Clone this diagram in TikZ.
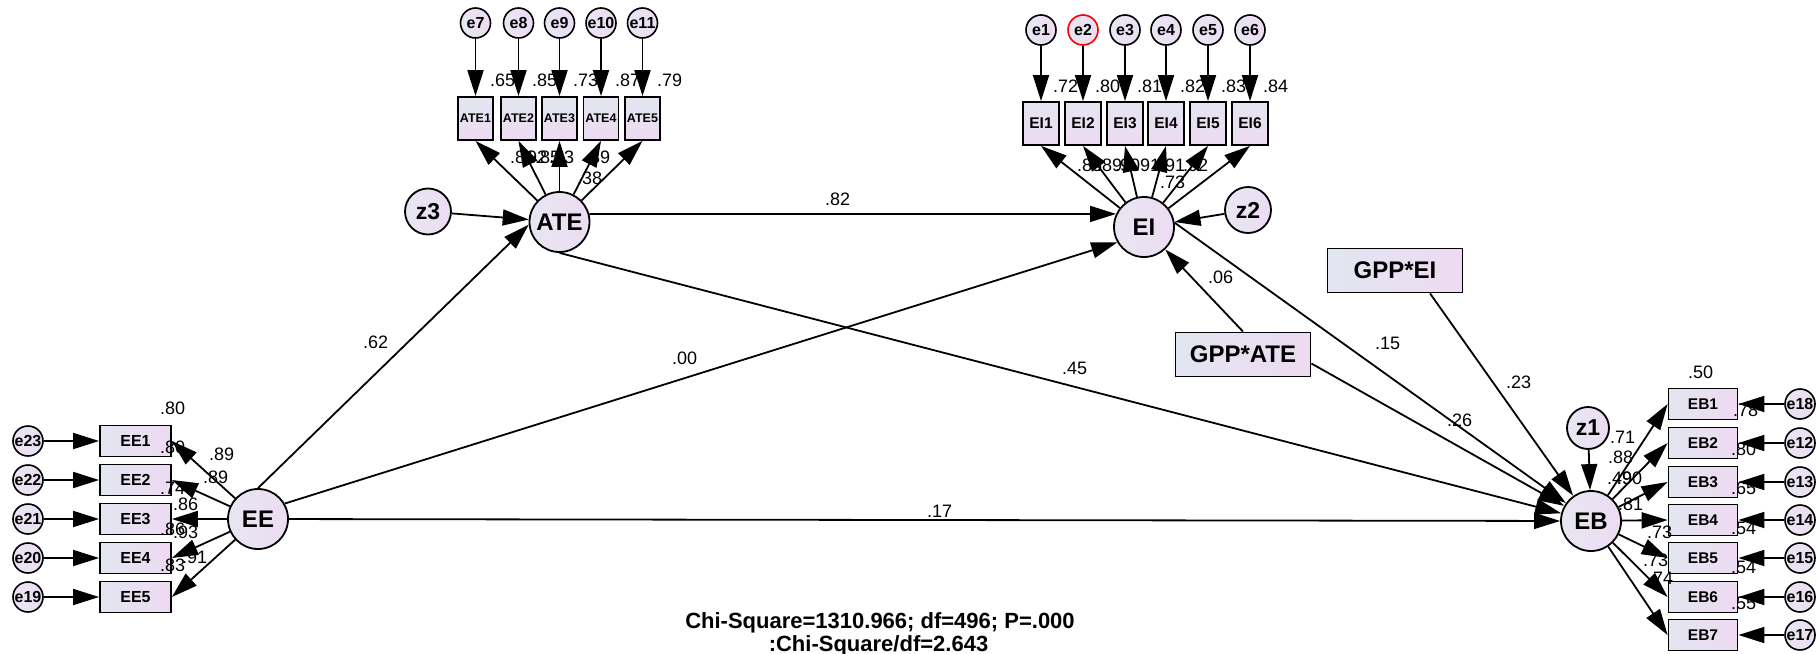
\documentclass[tikz,border=0pt]{standalone}
\usepackage{fontspec}
\setmainfont{Liberation Sans}
\usetikzlibrary{arrows.meta}
\definecolor{cL}{RGB}{226,230,240}
\definecolor{cR}{RGB}{238,218,242}
\definecolor{kL}{RGB}{232,230,242}
\definecolor{kR}{RGB}{236,220,242}
\begin{document}
\begin{tikzpicture}[x=1pt,y=-1pt,
  lat/.style={circle, draw, line width=1.8pt, minimum size=60pt, inner sep=0pt, left color=kL, right color=kR, font=\bfseries\fontsize{24}{24}\selectfont},
  distc/.style={circle, draw, line width=1.8pt, minimum size=46pt, inner sep=0pt, left color=kL, right color=kR, font=\bfseries\fontsize{23}{23}\selectfont},
  errc/.style={circle, draw, line width=1.6pt, minimum size=30pt, inner sep=0pt, left color=kL, right color=kR, font=\bfseries\fontsize{16}{16}\selectfont},
  boxv/.style={rectangle, draw, line width=1.8pt, minimum width=35pt, minimum height=43pt, inner sep=0pt, top color=cL, bottom color=cR},
  boxh/.style={rectangle, draw, line width=1.8pt, minimum width=71pt, minimum height=31pt, inner sep=0pt, left color=cL, right color=cR, font=\bfseries\fontsize{16}{16}\selectfont},
  boxw/.style={rectangle, draw, line width=1.8pt, minimum width=135pt, minimum height=44pt, inner sep=0pt, left color=cL, right color=cR, font=\bfseries\fontsize{24}{24}\selectfont},
  lbl/.style={inner sep=0pt, anchor=west, font=\fontsize{18}{18}\selectfont},
  arr/.style={-{Triangle[length=26pt,width=16pt]}, line width=1.8pt}
]
\useasboundingbox (0,0) rectangle (1819,653);

% latent variables
\node[lat] (ATE) at (559.5,222) {ATE};
\node[lat] (EI) at (1144,227) {EI};
\node[lat] (EE) at (258,519) {EE};
\node[lat] (EB) at (1591,521) {EB};
\node[distc] (z3) at (428,211.5) {z3};
\node[distc] (z2) at (1248,210) {z2};
\node[distc, minimum size=42pt] (z1) at (1588,428) {z1};
\node[boxw] (GPPEI) at (1395,270.5) {GPP*EI};
\node[boxw] (GPPATE) at (1243,354.5) {GPP*ATE};

% ATE indicators
\foreach \i/\x/\e in {1/475.5/7, 2/518.5/8, 3/559.5/9, 4/601/10, 5/642.5/11} {
  \node[boxv, font=\bfseries\fontsize{12.5}{12.5}\selectfont] (ATE\i) at (\x,118.5) {ATE\i};
  \node[errc] (e\e) at (\x,23) {e\e};
}
% EI indicators
\foreach \i/\x in {1/1041, 2/1083, 3/1125, 4/1166, 5/1208, 6/1250} {
  \node[boxv, minimum width=36pt, font=\bfseries\fontsize{15.5}{15.5}\selectfont] (EI\i) at (\x,123.5) {EI\i};
}
\foreach \i/\x in {1/1041, 3/1125, 4/1166, 5/1208, 6/1250} {
  \node[errc] (e\i) at (\x,30) {e\i};
}
\node[errc, draw=red] (e2) at (1083,30) {e2};

% EE indicators
\foreach \i/\y/\e in {1/441/23, 2/480/22, 3/519/21, 4/558/20, 5/597/19} {
  \node[boxh] (EE\i) at (135.5,\y) {EE\i};
  \node[errc] (e\e) at (28,\y) {e\e};
}
% EB indicators
\foreach \i/\y/\e in {1/404/18, 2/443/12, 3/482/13, 4/520/14, 5/558/15, 6/597/16, 7/635/17} {
  \node[boxh, minimum width=69pt, font=\bfseries\fontsize{15.5}{15.5}\selectfont] (EB\i) at (1703,\y) {EB\i};
  \node[errc] (e\e) at (1800,\y) {e\e};
}

% labels
\node[lbl] at (490,80) {.65};
\node[lbl] at (532,80) {.85};
\node[lbl] at (573,80) {.73};
\node[lbl] at (615,80) {.87};
\node[lbl] at (657,80) {.79};
\node[lbl] at (510,157) {.81};
\node[lbl] at (522,157) {.92};
\node[lbl] at (535,157) {.85};
\node[lbl] at (549,157) {.93};
\node[lbl] at (585,157) {.89};
\node[lbl] at (577,178) {.38};

\node[lbl] at (1053,86) {.72};
\node[lbl] at (1095,86) {.80};
\node[lbl] at (1137,86) {.81};
\node[lbl] at (1180,86) {.82};
\node[lbl] at (1221,86) {.83};
\node[lbl] at (1263,86) {.84};
\node[lbl] at (1077,165) {.85};
\node[lbl] at (1097,165) {.89};
\node[lbl] at (1115,165) {.90};
\node[lbl] at (1135,165) {.91};
\node[lbl] at (1160,165) {.91};
\node[lbl] at (1183,165) {.92};
\node[lbl] at (1160,182) {.73};

\node[lbl] at (160,408) {.80};
\node[lbl] at (160,447) {.80};
\node[lbl] at (160,488) {.74};
\node[lbl] at (160,529) {.86};
\node[lbl] at (160,565) {.83};
\node[lbl] at (209,454) {.89};
\node[lbl] at (203,477) {.89};
\node[lbl] at (173,504) {.86};
\node[lbl] at (173,532) {.93};
\node[lbl] at (182,557) {.91};

\node[lbl] at (1688,372) {.50};
\node[lbl] at (1733,410) {.78};
\node[lbl] at (1731,449) {.80};
\node[lbl] at (1731,488) {.65};
\node[lbl] at (1731,528) {.54};
\node[lbl] at (1731,567) {.54};
\node[lbl] at (1731,603) {.55};
\node[lbl] at (1610,437) {.71};
\node[lbl] at (1608,457) {.88};
\node[lbl] at (1607,478) {.49};
\node[lbl] at (1617,478) {.90};
\node[lbl] at (1618,504) {.81};
\node[lbl] at (1647,532) {.73};
\node[lbl] at (1643,560) {.73};
\node[lbl] at (1648,578) {.74};

\node[lbl] at (363,342) {.62};
\node[lbl] at (672,358) {.00};
\node[lbl] at (825,199) {.82};
\node[lbl] at (1062,368) {.45};
\node[lbl] at (927,511) {.17};
\node[lbl] at (1208,277) {.06};
\node[lbl] at (1375,343) {.15};
\node[lbl] at (1447,420) {.26};
\node[lbl] at (1506,382) {.23};

\node[inner sep=0pt, font=\bfseries\fontsize{22}{22}\selectfont] (chi1) at (880,623) {Chi-Square=1310.966; df=496; P=.000};
\node[inner sep=0pt, font=\bfseries\fontsize{22}{22}\selectfont] (chi2) at (878.5,646) {:Chi-Square/df=2.643};

% measurement arrows
\foreach \i/\e in {1/7, 2/8, 3/9, 4/10, 5/11} {
  \draw[arr] (e\e) -- (ATE\i);
  \draw[arr] (ATE) -- (ATE\i.south);
}
\foreach \i in {1,...,6} {
  \draw[arr] (e\i) -- (EI\i);
  \draw[arr] (EI) -- (EI\i.south);
}
\foreach \i/\e in {1/23, 2/22, 3/21, 4/20, 5/19} {
  \draw[arr] (e\e) -- (EE\i);
  \draw[arr] (EE) -- (EE\i.east);
}
\foreach \i/\e in {1/18, 2/12, 3/13, 4/14, 5/15, 6/16, 7/17} {
  \draw[arr] (e\e) -- (EB\i);
  \draw[arr] (EB) -- (EB\i.west);
}

% structural arrows
\draw[arr] (z3) -- (ATE);
\draw[arr] (EE.north) -- (ATE.185);
\draw[arr] (ATE.15) -- (EI.155);
\draw[arr] (EE.30) -- (EI.210);
\draw[arr] (ATE.south) -- (EB);
\draw[arr] (EE) -- (EB);
\draw[arr] (EI.8) -- (EB);
\draw[arr] (GPPATE.north) -- (EI);
\draw[arr] ([yshift=-9pt]GPPATE.east) -- (EB);
\draw[arr] ([xshift=35pt]GPPEI.south) -- (EB);
\draw[arr] (z2) -- (EI);
\draw[arr] (z1) -- (EB);
\end{tikzpicture}
\end{document}
